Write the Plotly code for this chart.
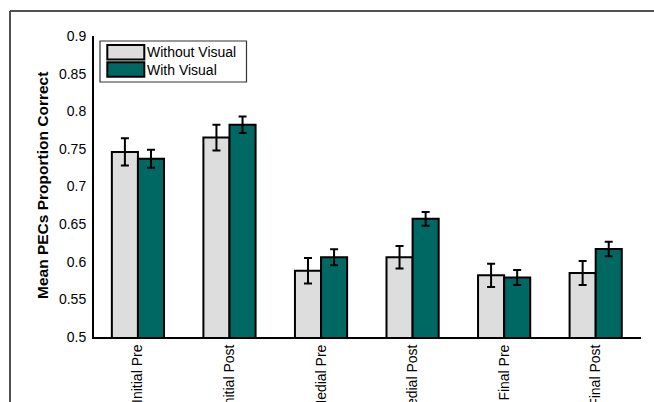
import plotly.graph_objects as go

# Session / test labels along the x axis
categories = ["Initial Pre", "Initial Post", "Medial Pre", "Medial Post", "Final Pre", "Final Post"]

# Mean proportion correct per condition
without_visual = [0.746, 0.765, 0.588, 0.606, 0.582, 0.585]
with_visual = [0.737, 0.782, 0.606, 0.657, 0.579, 0.617]

# Standard errors (half-length of error bars)
without_visual_err = [0.018, 0.017, 0.017, 0.015, 0.0155, 0.016]
with_visual_err = [0.012, 0.011, 0.0105, 0.009, 0.010, 0.0097]

series_names = ["Without Visual", "With Visual"]
series_colors = ["#DDDDDD", "#006862"]

y_ticks = [0.5, 0.55, 0.6, 0.65, 0.7, 0.75, 0.8, 0.85, 0.9]
y_tick_text = ["0.5", "0.55", "0.6", "0.65", "0.7", "0.75", "0.8", "0.85", "0.9"]

W, H = 654, 402
ML, MR, MT, MB = 94, 13, 36, 65
PW, PH = W - ML - MR, H - MT - MB
FONT = "Arial, Liberation Sans, sans-serif"


def px_x(p):
    return (p - ML) / PW


def px_y(p):
    return (H - MB - p) / PH


fig = go.Figure()
for name, vals, errs, color in zip(
    series_names,
    [without_visual, with_visual],
    [without_visual_err, with_visual_err],
    series_colors,
):
    fig.add_trace(
        go.Bar(
            name=name,
            x=list(range(len(categories))),
            y=vals,
            base=0,
            marker=dict(color=color, line=dict(color="black", width=2)),
            error_y=dict(type="data", array=errs, visible=True,
                         color="black", thickness=2, width=4),
            showlegend=False,
        )
    )

shapes = [
    # outer frame edges
    dict(type="line", xref="paper", yref="paper", x0=px_x(10), x1=px_x(W + 5),
         y0=px_y(11), y1=px_y(11), line=dict(color="#505050", width=2)),
    dict(type="line", xref="paper", yref="paper", x0=px_x(10), x1=px_x(10),
         y0=px_y(11), y1=px_y(H + 5), line=dict(color="#505050", width=2)),
    # legend box
    dict(type="rect", xref="paper", yref="paper", x0=px_x(100), x1=px_x(246.5),
         y0=px_y(41), y1=px_y(82), line=dict(color="#333333", width=1.2),
         fillcolor="white"),
]
annotations = []
row_tops = [45, 62.3]
for name, color, top in zip(series_names, series_colors, row_tops):
    shapes.append(dict(type="rect", xref="paper", yref="paper",
                       x0=px_x(107.3), x1=px_x(144.3),
                       y0=px_y(top), y1=px_y(top + 14.5),
                       line=dict(color="black", width=2), fillcolor=color))
    annotations.append(dict(text=name, xref="paper", yref="paper",
                            x=px_x(145), y=px_y(top + 7.5),
                            xanchor="left", yanchor="middle", showarrow=False,
                            font=dict(family=FONT, size=14, color="black")))

# y-axis title
annotations.append(dict(text="<b>Mean PECs Proportion Correct</b>", xref="paper",
                        yref="paper", x=px_x(42), y=px_y(186), textangle=-90,
                        xanchor="center", yanchor="middle", showarrow=False,
                        font=dict(family=FONT, size=15.5, color="black")))

fig.update_layout(
    width=W, height=H,
    margin=dict(l=ML, r=MR, t=MT, b=MB, autoexpand=False),
    paper_bgcolor="white", plot_bgcolor="white",
    barmode="group", bargap=0.43, bargroupgap=0,
    font=dict(family=FONT, size=14, color="black"),
    shapes=shapes, annotations=annotations,
    xaxis=dict(
        range=[-0.48, 5.495], tickmode="array",
        tickvals=list(range(len(categories))), ticktext=categories,
        tickangle=-90, showgrid=False, zeroline=False, ticks="",
        showline=True, linecolor="black", linewidth=2,
        tickfont=dict(family=FONT, size=14, color="black"),
        automargin=False,
    ),
    yaxis=dict(
        range=[0.5, 0.9], tickmode="array", tickvals=y_ticks, ticktext=y_tick_text,
        showgrid=False, zeroline=False, ticks="", showline=True,
        linecolor="black", linewidth=2, ticklabelstandoff=3,
        tickfont=dict(family=FONT, size=14, color="black"),
        automargin=False,
    ),
)

fig.write_html("out.html")
